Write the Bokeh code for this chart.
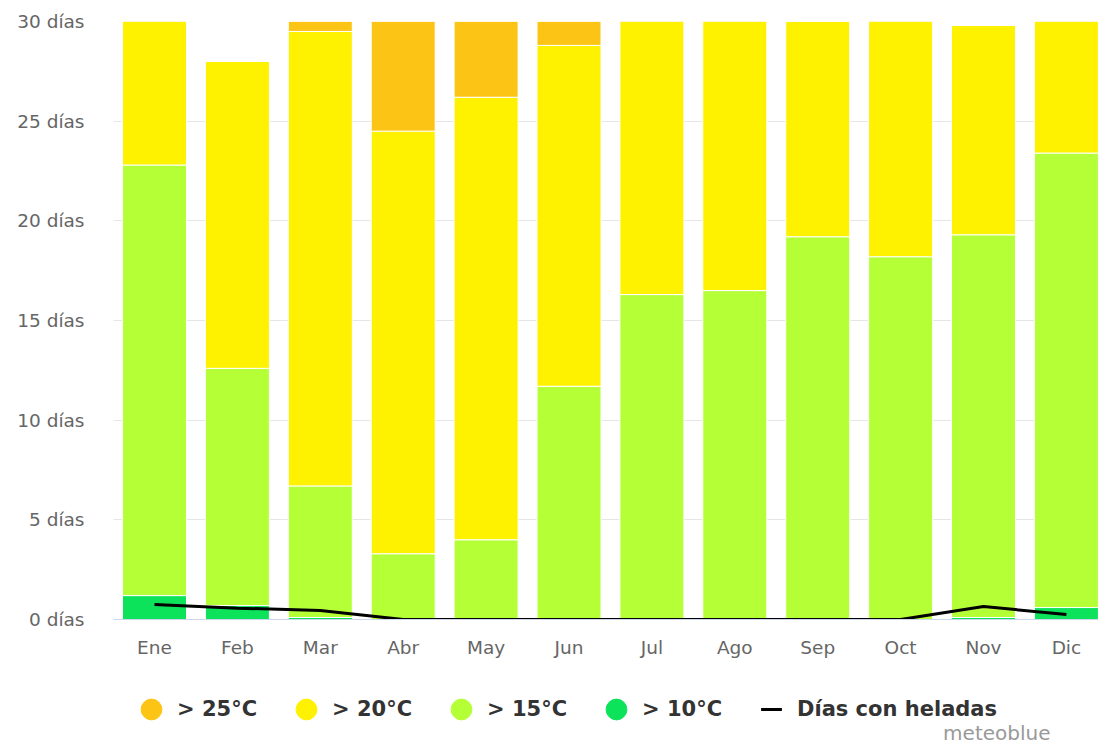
from bokeh.plotting import figure
from bokeh.layouts import column
from bokeh.models import (ColumnDataSource, FixedTicker, Legend, LegendItem, Label, Range1d)
from bokeh.embed import file_html
from bokeh.resources import INLINE

months = ["Ene", "Feb", "Mar", "Abr", "May", "Jun", "Jul", "Ago", "Sep", "Oct", "Nov", "Dic"]
# days per category (stacked from bottom)
gt10 = [1.2, 0.7, 0.1, 0.0, 0.0, 0.0, 0.0, 0.0, 0.0, 0.0, 0.1, 0.6]
gt15 = [21.6, 11.9, 6.6, 3.3, 4.0, 11.7, 16.3, 16.5, 19.2, 18.2, 19.2, 22.8]
gt20 = [8.2, 15.4, 22.8, 21.2, 22.2, 17.1, 14.7, 14.5, 10.8, 12.8, 10.5, 7.6]
gt25 = [0.0, 0.0, 1.5, 5.5, 4.8, 1.2, 0.0, 0.0, 0.0, 0.0, 0.0, 0.0]
frost = [0.75, 0.57, 0.45, 0.0, 0.0, 0.0, 0.0, 0.0, 0.0, 0.0, 0.65, 0.25]
y_ticks = [0, 5, 10, 15, 20, 25, 30]

colors = {"gt10": "#0de35a", "gt15": "#b4ff36", "gt20": "#fff200", "gt25": "#fcc516"}
labels = {"gt25": "> 25°C", "gt20": "> 20°C", "gt15": "> 15°C", "gt10": "> 10°C"}

xs = list(range(len(months)))
src = ColumnDataSource(dict(x=xs, gt10=gt10, gt15=gt15, gt20=gt20, gt25=gt25, frost=frost))

p = figure(width=1098, height=665, output_backend="svg", toolbar_location=None,
           x_range=Range1d(-0.4946, 11.387), y_range=Range1d(0, 30),
           min_border_left=113, min_border_right=0, min_border_top=21, min_border_bottom=46)
p.outline_line_color = None
p.background_fill_color = "white"

stack = ["gt10", "gt15", "gt20", "gt25"]
p.vbar_stack(stack, x="x", width=0.772, source=src,
             color=[colors[s] for s in stack], line_color="white", line_width=1)
p.line(x="x", y="frost", source=src, line_color="black", line_width=3)

# axes
p.xaxis.ticker = FixedTicker(ticks=xs)
p.xaxis.major_label_overrides = {i: m for i, m in enumerate(months)}
p.xaxis.axis_line_color = "#ccd6eb"
p.xaxis.major_tick_line_color = None
p.xaxis.major_tick_out = 0
p.xaxis.major_tick_in = 0
p.xaxis.minor_tick_line_color = None
p.xaxis.major_label_standoff = 17
p.xaxis.major_label_text_font = "DejaVu Sans"
p.xaxis.major_label_text_font_size = "18.5px"
p.xaxis.major_label_text_color = "#666666"

p.yaxis.ticker = FixedTicker(ticks=y_ticks)
p.yaxis.major_label_overrides = {t: f"{t} días" for t in y_ticks}
p.yaxis.axis_line_color = None
p.yaxis.major_tick_line_color = None
p.yaxis.major_tick_out = 0
p.yaxis.major_tick_in = 0
p.yaxis.minor_tick_line_color = None
p.yaxis.major_label_standoff = 29
p.yaxis.major_label_text_font = "DejaVu Sans"
p.yaxis.major_label_text_font_size = "18.5px"
p.yaxis.major_label_text_color = "#666666"

p.xgrid.grid_line_color = None
p.ygrid.grid_line_color = "#e6e6e6"
p.ygrid.ticker = FixedTicker(ticks=y_ticks)

# legend strip below the chart (frame aligned with the chart's frame: left at 113px)
lg = figure(width=1098, height=79, output_backend="svg", toolbar_location=None,
            x_range=Range1d(0, 1), y_range=Range1d(0, 1),
            min_border=0, min_border_left=0, min_border_right=0,
            min_border_top=0, min_border_bottom=0)
lg.axis.visible = False
lg.grid.visible = False
lg.outline_line_color = None

items = []
for s in ["gt25", "gt20", "gt15", "gt10"]:
    r = lg.scatter(x="x", y=s, source=src, marker="circle",
                   fill_color=colors[s], line_color=colors[s], visible=False)
    items.append(LegendItem(label=labels[s], renderers=[r]))
rd = lg.scatter(x="x", y="frost", source=src, marker="dash",
                line_color="black", line_width=3, visible=False)
items.append(LegendItem(label="Días con heladas", renderers=[rd]))

leg = Legend(items=items, orientation="horizontal", location=(12, 9),
             glyph_width=52, glyph_height=52, label_standoff=0, label_width=82,
             spacing=21, padding=0, margin=0, border_line_color=None,
             background_fill_alpha=0, label_text_font="DejaVu Sans",
             label_text_font_size="21px", label_text_font_style="bold",
             label_text_color="#333333")
lg.add_layout(leg, "center")

lg.add_layout(Label(x=937, y=12, x_units="screen", y_units="screen", text="meteoblue",
                    text_align="right", text_baseline="middle", text_font="DejaVu Sans",
                    text_font_size="20px", text_color="#999999"))

layout = column(p, lg, spacing=0)
open("out.html", "w").write(file_html(layout, INLINE))
